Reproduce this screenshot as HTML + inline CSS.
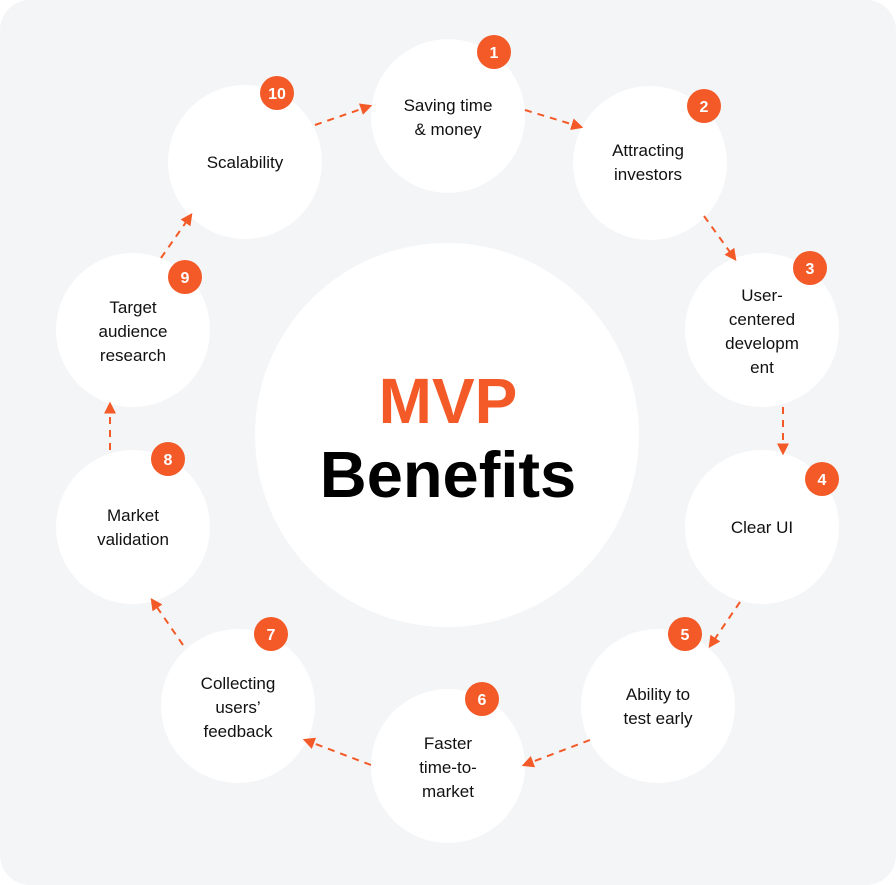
<!DOCTYPE html>
<html><head><meta charset="utf-8"><style>
html,body{margin:0;padding:0;background:#fff;}
svg{display:block}
text{font-family:"Liberation Sans",sans-serif;}
</style></head><body>
<svg width="896" height="885" viewBox="0 0 896 885" xmlns="http://www.w3.org/2000/svg">
<defs>
<marker id="a" viewBox="0 0 10 10" refX="8" refY="5" markerWidth="12" markerHeight="12" markerUnits="userSpaceOnUse" orient="auto">
<path d="M0,0 L10,5 L0,10 z" fill="#f35a27"/></marker>
</defs>
<rect x="0" y="0" width="896" height="885" rx="30" fill="#f4f5f7"/>
<circle cx="447" cy="435" r="192" fill="#fff"/>
<text x="448" y="423" text-anchor="middle" font-size="64" font-weight="bold" fill="#f35a27">MVP</text>
<text x="448" y="497" text-anchor="middle" font-size="65" font-weight="bold" fill="#000">Benefits</text>
<g fill="#fff">
<circle cx="448" cy="116" r="77"/>
<circle cx="650" cy="163" r="77"/>
<circle cx="762" cy="330" r="77"/>
<circle cx="762" cy="527" r="77"/>
<circle cx="658" cy="706" r="77"/>
<circle cx="448" cy="766" r="77"/>
<circle cx="238" cy="706" r="77"/>
<circle cx="133" cy="527" r="77"/>
<circle cx="133" cy="330" r="77"/>
<circle cx="245" cy="162" r="77"/>
</g>
<g stroke="#f35a27" stroke-width="2" stroke-dasharray="7,6" fill="none" marker-end="url(#a)">
<line x1="315" y1="125" x2="370" y2="106"/>
<line x1="525" y1="110" x2="581" y2="127"/>
<line x1="704" y1="216" x2="735" y2="259"/>
<line x1="783" y1="407" x2="783" y2="453"/>
<line x1="740" y1="602" x2="710" y2="646"/>
<line x1="590" y1="740" x2="524" y2="765"/>
<line x1="371" y1="765" x2="305" y2="740"/>
<line x1="183" y1="645" x2="152" y2="600"/>
<line x1="110" y1="450" x2="110" y2="404"/>
<line x1="161" y1="258" x2="191" y2="215"/>
</g>
<g fill="#f35a27">
<circle cx="494" cy="52" r="17"/>
<circle cx="704" cy="106" r="17"/>
<circle cx="810" cy="268" r="17"/>
<circle cx="822" cy="479" r="17"/>
<circle cx="685" cy="634" r="17"/>
<circle cx="482" cy="699" r="17"/>
<circle cx="271" cy="634" r="17"/>
<circle cx="168" cy="459" r="17"/>
<circle cx="185" cy="277" r="17"/>
<circle cx="277" cy="93" r="17"/>
</g>
<g fill="#fff" font-size="16" font-weight="bold" text-anchor="middle">
<text x="494" y="58">1</text>
<text x="704" y="112">2</text>
<text x="810" y="274">3</text>
<text x="822" y="485">4</text>
<text x="685" y="640">5</text>
<text x="482" y="705">6</text>
<text x="271" y="640">7</text>
<text x="168" y="465">8</text>
<text x="185" y="283">9</text>
<text x="277" y="99">10</text>
</g>
<g fill="#111" font-size="17" text-anchor="middle">
<text x="448" y="111">Saving time</text><text x="448" y="135">&amp; money</text>
<text x="648" y="156">Attracting</text><text x="648" y="180">investors</text>
<text x="762" y="301">User-</text><text x="762" y="325">centered</text><text x="762" y="349">developm</text><text x="762" y="373">ent</text>
<text x="762" y="533">Clear UI</text>
<text x="658" y="700">Ability to</text><text x="658" y="724">test early</text>
<text x="448" y="749">Faster</text><text x="448" y="773">time-to-</text><text x="448" y="797">market</text>
<text x="238" y="689">Collecting</text><text x="238" y="713">users’</text><text x="238" y="737">feedback</text>
<text x="133" y="521">Market</text><text x="133" y="545">validation</text>
<text x="133" y="313">Target</text><text x="133" y="337">audience</text><text x="133" y="361">research</text>
<text x="245" y="168">Scalability</text>
</g>
</svg>
</body></html>
